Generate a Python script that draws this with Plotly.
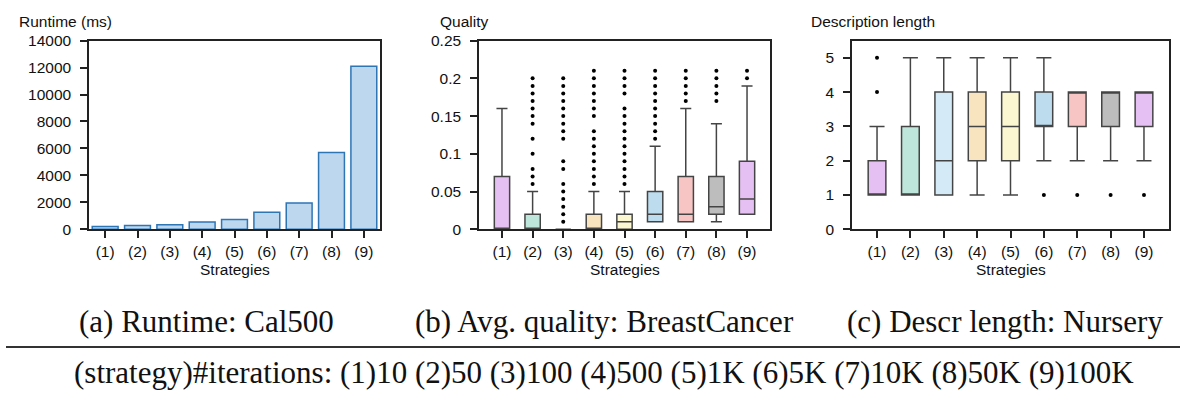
import plotly.graph_objects as go

# ---------------- data ----------------
categories = ["(1)", "(2)", "(3)", "(4)", "(5)", "(6)", "(7)", "(8)", "(9)"]
iterations = ["10", "50", "100", "500", "1K", "5K", "10K", "50K", "100K"]

runtime_ms = [200, 290, 340, 550, 720, 1270, 1950, 5700, 12100]

quality_low = [0, 0, 0, 0, 0, 0.01, 0.01, 0.01, 0.02]
quality_q1 = [0, 0, 0, 0, 0, 0.01, 0.01, 0.02, 0.02]
quality_median = [0, 0, 0, 0, 0.01, 0.02, 0.02, 0.03, 0.04]
quality_q3 = [0.07, 0.02, 0, 0.02, 0.02, 0.05, 0.07, 0.07, 0.09]
quality_high = [0.16, 0.05, 0, 0.05, 0.05, 0.11, 0.16, 0.14, 0.19]
quality_outliers = [
    [],
    [0.06, 0.07, 0.08, 0.10, 0.12, 0.14, 0.15, 0.16, 0.17, 0.18, 0.19, 0.20],
    [0.01, 0.02, 0.03, 0.04, 0.05, 0.06, 0.08, 0.09, 0.12, 0.13, 0.14, 0.15,
     0.16, 0.17, 0.18, 0.19, 0.20],
    [0.06, 0.07, 0.08, 0.09, 0.10, 0.11, 0.12, 0.13, 0.15, 0.16, 0.17, 0.18,
     0.19, 0.20, 0.21],
    [0.06, 0.07, 0.08, 0.09, 0.10, 0.11, 0.12, 0.13, 0.14, 0.15, 0.16, 0.18,
     0.19, 0.20, 0.21],
    [0.12, 0.13, 0.14, 0.15, 0.16, 0.17, 0.18, 0.19, 0.20, 0.21],
    [0.17, 0.18, 0.19, 0.20, 0.21],
    [0.17, 0.18, 0.19, 0.20, 0.21],
    [0.20, 0.21],
]

desc_low = [1, 1, 1, 1, 1, 2, 2, 2, 2]
desc_q1 = [1, 1, 1, 2, 2, 3, 3, 3, 3]
desc_median = [1, 1, 2, 3, 3, 3, 4, 4, 4]
desc_q3 = [2, 3, 4, 4, 4, 4, 4, 4, 4]
desc_high = [3, 5, 5, 5, 5, 5, 4, 4, 4]
desc_outliers = [[4, 5], [], [], [], [], [1], [1], [1], [1]]

box_colors = ["#e4c1f2", "#bee6da", "#d5eaf7", "#f8e5c0", "#fbf7d0",
              "#bddcee", "#f7c6c4", "#bdbdbd", "#e4c1f2"]

captions = ["(a) Runtime: Cal500", "(b) Avg. quality: BreastCancer",
            "(c) Descr length: Nursery"]

# ---------------- layout helpers ----------------
W, H = 1180, 403


def px_x(p):
    return p / W


def px_y(p):
    return 1 - p / H


SANS = "Liberation Sans, Arial, sans-serif"
SERIF = "Liberation Serif, Times New Roman, serif"
INK = "#222222"
FS = 15.5

fig = go.Figure()

# panel (a): bars
fig.add_trace(go.Bar(
    x=categories, y=runtime_ms, width=0.8,
    marker=dict(color="#bdd7ee", line=dict(color="#2e75b6", width=1.5)),
    xaxis="x", yaxis="y", showlegend=False,
))

# panel (b): quality boxes
for i, c in enumerate(categories):
    fig.add_trace(go.Box(
        x=[c], q1=[quality_q1[i]], median=[quality_median[i]], q3=[quality_q3[i]],
        lowerfence=[quality_low[i]], upperfence=[quality_high[i]],
        width=0.5, whiskerwidth=0.72, fillcolor=box_colors[i],
        line=dict(color="#444444", width=1.5), boxpoints=False,
        xaxis="x2", yaxis="y2", showlegend=False,
    ))
for i, c in enumerate(categories):
    if quality_outliers[i]:
        fig.add_trace(go.Scatter(
            x=[c] * len(quality_outliers[i]), y=quality_outliers[i], mode="markers",
            marker=dict(color="black", size=4), xaxis="x2", yaxis="y2",
            showlegend=False,
        ))

# panel (c): description length boxes
for i, c in enumerate(categories):
    fig.add_trace(go.Box(
        x=[c], q1=[desc_q1[i]], median=[desc_median[i]], q3=[desc_q3[i]],
        lowerfence=[desc_low[i]], upperfence=[desc_high[i]],
        width=0.53, whiskerwidth=0.85, fillcolor=box_colors[i],
        line=dict(color="#444444", width=1.5), boxpoints=False,
        xaxis="x3", yaxis="y3", showlegend=False,
    ))
for i, c in enumerate(categories):
    if desc_outliers[i]:
        fig.add_trace(go.Scatter(
            x=[c] * len(desc_outliers[i]), y=desc_outliers[i], mode="markers",
            marker=dict(color="black", size=4), xaxis="x3", yaxis="y3",
            showlegend=False,
        ))

axis_common = dict(
    showline=True, mirror=True, linecolor=INK, linewidth=1.5,
    ticks="outside", ticklen=7, tickwidth=1.5, tickcolor=INK,
    showgrid=False, zeroline=False,
    tickfont=dict(family=SANS, size=FS, color="#111111"),
)

ydom = [px_y(230), px_y(33)]
fig.update_layout(
    width=W, height=H,
    margin=dict(l=0, r=0, t=0, b=0),
    paper_bgcolor="white", plot_bgcolor="white",
    showlegend=False,
    xaxis=dict(domain=[px_x(89), px_x(380)], type="category",
               range=[-0.5, 8.5], anchor="y", **axis_common),
    yaxis=dict(domain=ydom, range=[0, 14000], dtick=2000, tickformat="d",
               anchor="x", ticklabelstandoff=6, **axis_common),
    xaxis2=dict(domain=[px_x(479), px_x(770)], type="category",
                range=[-0.75, 8.75], anchor="y2", **axis_common),
    yaxis2=dict(domain=ydom, range=[0, 0.25],
                tickvals=[0, 0.05, 0.1, 0.15, 0.2, 0.25],
                ticktext=["0", "0.05", "0.1", "0.15", "0.2", "0.25"],
                anchor="x2", ticklabelstandoff=6, **axis_common),
    xaxis3=dict(domain=[px_x(852), px_x(1169)], type="category",
                range=[-0.75, 8.75], anchor="y3", **axis_common),
    yaxis3=dict(domain=ydom, range=[0, 5.5], tickvals=[0, 1, 2, 3, 4, 5],
                anchor="x3", ticklabelstandoff=6, **axis_common),
)

annotations = []
for text, xl in [("Runtime (ms)", 17), ("Quality", 438), ("Description length", 809)]:
    annotations.append(dict(text=text, x=px_x(xl), y=px_y(13), xref="paper", yref="paper",
                            xanchor="left", yanchor="middle", showarrow=False,
                            font=dict(family=SANS, size=FS, color="#111111")))
for xc in [234.5, 624.5, 1010.5]:
    annotations.append(dict(text="Strategies", x=px_x(xc), y=px_y(272), xref="paper",
                            yref="paper", xanchor="center", yanchor="middle",
                            showarrow=False,
                            font=dict(family=SANS, size=FS, color="#111111")))
for text, xc in zip(captions, [206, 604, 1004.5]):
    annotations.append(dict(text=text, x=px_x(xc), y=px_y(326), xref="paper", yref="paper",
                            xanchor="center", yanchor="middle", showarrow=False,
                            font=dict(family=SERIF, size=31, color="#111111")))
legend_text = "(strategy)#iterations: " + " ".join(
    f"{c}{n}" for c, n in zip(categories, iterations))
annotations.append(dict(text=legend_text, x=px_x(603.5), y=px_y(380), xref="paper",
                        yref="paper", xanchor="center", yanchor="middle",
                        showarrow=False,
                        font=dict(family=SERIF, size=31, color="#111111")))
fig.update_layout(annotations=annotations)

fig.add_shape(type="line", xref="paper", yref="paper",
              x0=px_x(6), x1=1, y0=px_y(353), y1=px_y(353),
              line=dict(color="#333333", width=2))

fig.write_html(
    "out.html",
    config={"displayModeBar": False},
    post_script="document.body.style.margin='0';document.body.style.overflow='hidden';",
)
